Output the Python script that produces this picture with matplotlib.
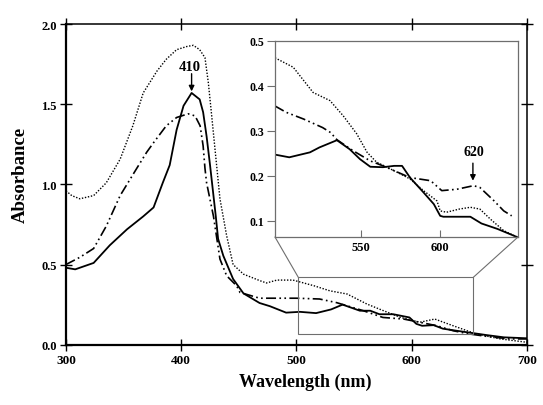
import matplotlib
matplotlib.use("Agg")
import matplotlib.pyplot as plt
from matplotlib.patches import Rectangle, ConnectionPatch

plt.rcParams['font.family'] = ['Liberation Serif', 'DejaVu Serif']
plt.rcParams['font.weight'] = 'bold'

# ---- main spectra ----
solid_nm = [300, 308, 324, 338, 353, 367, 376, 384, 390, 396, 402, 409, 416, 419, 422, 425,
            430, 432, 436.5, 445, 454, 468, 477, 491, 503, 517, 530, 540, 555, 564, 572, 584,
            598, 604, 609, 619, 627, 639, 665, 680, 700]
solid_A = [0.48, 0.47, 0.51, 0.62, 0.72, 0.80, 0.856, 1.01, 1.12, 1.34, 1.49, 1.57, 1.53, 1.45,
           1.30, 1.12, 0.80, 0.66, 0.555, 0.41, 0.32, 0.26, 0.24, 0.20, 0.205, 0.197, 0.22,
           0.25, 0.212, 0.212, 0.19, 0.19, 0.17, 0.13, 0.118, 0.122, 0.10, 0.087, 0.06, 0.046, 0.04]

dot_nm = [300, 305, 312, 324, 335, 347, 358, 367, 379, 387, 396, 405, 410.5, 416, 420.6, 423.5,
          426.4, 429.3, 433.6, 439.4, 445, 454, 468, 474, 483, 497, 515, 529, 544, 561, 572,
          590, 607, 620, 636, 656, 677, 700]
dot_A = [0.96, 0.93, 0.91, 0.93, 1.01, 1.157, 1.365, 1.57, 1.707, 1.78, 1.84, 1.86, 1.867, 1.84,
         1.79, 1.635, 1.43, 1.22, 0.91, 0.68, 0.50, 0.44, 0.40, 0.385, 0.403, 0.403, 0.368,
         0.336, 0.316, 0.254, 0.222, 0.171, 0.14, 0.16, 0.118, 0.067, 0.036, 0.015]

dd_nm = [300, 312, 324, 335, 347, 361, 370, 376, 387, 396, 406, 412, 416.4, 419, 420.6, 422,
         428, 433.6, 439.4, 448, 451, 468, 500, 520, 535, 558, 575, 593, 607, 622, 636, 650,
         665, 685, 700]
dd_A = [0.50, 0.545, 0.60, 0.74, 0.93, 1.095, 1.2, 1.26, 1.365, 1.417, 1.44, 1.427, 1.365, 1.24,
        1.10, 1.01, 0.80, 0.534, 0.43, 0.368, 0.326, 0.29, 0.29, 0.285, 0.262, 0.212, 0.17,
        0.16, 0.14, 0.118, 0.087, 0.067, 0.052, 0.036, 0.036]

# ---- inset spectra ----
in_solid_nm = [496, 505, 518, 524, 535, 543, 549.5, 556, 564, 571, 576, 581, 589.5, 596, 600,
               602, 619, 626, 636, 649]
in_solid_A = [0.247, 0.241, 0.252, 0.263, 0.279, 0.259, 0.237, 0.22, 0.219, 0.222, 0.222, 0.196,
              0.163, 0.137, 0.111, 0.109, 0.109, 0.094, 0.082, 0.063]

in_dot_nm = [496, 507.5, 520, 530.6, 539, 547.5, 554, 560, 566, 575, 581, 589.5, 598, 600, 604,
             612, 619, 625, 631.5, 640, 649]
in_dot_A = [0.462, 0.441, 0.385, 0.367, 0.333, 0.293, 0.252, 0.23, 0.22, 0.204, 0.193, 0.167,
            0.144, 0.122, 0.119, 0.126, 0.13, 0.126, 0.104, 0.078, 0.063]

in_dd_nm = [496, 503, 514, 526, 531, 535, 545, 556, 564, 581, 594, 601, 610.5, 621, 625, 634,
            640, 645]
in_dd_A = [0.355, 0.341, 0.326, 0.307, 0.296, 0.28, 0.256, 0.233, 0.222, 0.196, 0.189, 0.167,
           0.17, 0.178, 0.174, 0.144, 0.122, 0.111]

main_xticks = [300, 400, 500, 600, 700]
main_yticks = [0.0, 0.5, 1.0, 1.5, 2.0]
inset_xticks = [550, 600]
inset_yticks = [0.1, 0.2, 0.3, 0.4, 0.5]

solid_style = dict(color='black', lw=1.3, linestyle='-')
dot_style = dict(color='black', lw=1.0, linestyle=(0, (1, 1.2)))
dd_style = dict(color='black', lw=1.2, linestyle=(0, (6, 2, 1, 2, 1, 2)))

fig = plt.figure(figsize=(5.43, 4.06), dpi=100)
ax = fig.add_axes([0.1215, 0.1485, 0.849, 0.7899])
ax.plot(dot_nm, dot_A, **dot_style)
ax.plot(dd_nm, dd_A, **dd_style)
ax.plot(solid_nm, solid_A, **solid_style)
ax.set_xlim(300, 700)
ax.set_ylim(0, 2.0)
ax.set_xticks(main_xticks)
ax.set_yticks(main_yticks)
ax.set_xticklabels([str(v) for v in main_xticks], fontsize=9.5, fontweight='bold')
ax.set_yticklabels([f"{v:.1f}" for v in main_yticks], fontsize=9, fontweight='bold')
ax.tick_params(axis='both', direction='inout', length=9, width=1.0, top=True, right=True,
               labeltop=False, labelright=False, pad=2)
ax.spines['left'].set_linewidth(1.6)
ax.spines['bottom'].set_linewidth(1.6)
ax.spines['top'].set_linewidth(1.1)
ax.spines['right'].set_linewidth(1.1)
ax.set_xlabel('Wavelength (nm)', fontsize=13, fontweight='bold')
ax.set_ylabel('Absorbance', fontsize=13.5, fontweight='bold')
ax.xaxis.set_label_coords(0.52, -0.088)
ax.yaxis.set_label_coords(-0.080, 0.533)

ax.annotate('', xy=(409, 1.58), xytext=(409, 1.69),
            arrowprops=dict(arrowstyle='-|>', color='black', lw=1.0, mutation_scale=8,
                            shrinkA=0, shrinkB=0))
ax.text(407.5, 1.736, '410', ha='center', va='center', fontsize=10.5, fontweight='bold')

# zoom rectangle on main axes
gray = '#6e6e6e'
ax.add_patch(Rectangle((501.6, 0.067), 653.4 - 501.6, 0.42 - 0.067, fill=False,
                       edgecolor=gray, lw=0.8, zorder=5))

# inset
ins = fig.add_axes([0.5064, 0.4138, 0.4476, 0.4835])
ins.plot(in_dot_nm, in_dot_A, **dot_style)
ins.plot(in_dd_nm, in_dd_A, **dd_style)
ins.plot(in_solid_nm, in_solid_A, **solid_style)
ins.set_xlim(496, 649)
ins.set_ylim(0.064, 0.5)
ins.set_xticks(inset_xticks)
ins.set_yticks(inset_yticks)
ins.set_xticklabels([str(v) for v in inset_xticks], fontsize=9, fontweight='bold')
ins.set_yticklabels([f"{v:.1f}" for v in inset_yticks], fontsize=8.5, fontweight='bold')
ins.tick_params(axis='y', direction='out', length=6, width=0.8, color=gray, pad=2)
ins.tick_params(axis='x', direction='in', length=5, width=0.8, color=gray, pad=3)
for s in ins.spines.values():
    s.set_color(gray)
    s.set_linewidth(0.9)

ins.annotate('', xy=(620.6, 0.189), xytext=(620.6, 0.228),
             arrowprops=dict(arrowstyle='-|>', color='black', lw=1.0, mutation_scale=8,
                             shrinkA=0, shrinkB=0))
ins.text(621, 0.253, '620', ha='center', va='center', fontsize=10, fontweight='bold')

for xa, xb in [((501.6, 0.42), (0, 0)), ((653.4, 0.42), (1, 0))]:
    cp = ConnectionPatch(xyA=xa, coordsA=ax.transData, xyB=xb, coordsB=ins.transAxes,
                         color=gray, lw=0.8)
    fig.add_artist(cp)

fig.savefig('out.png', dpi=100)
